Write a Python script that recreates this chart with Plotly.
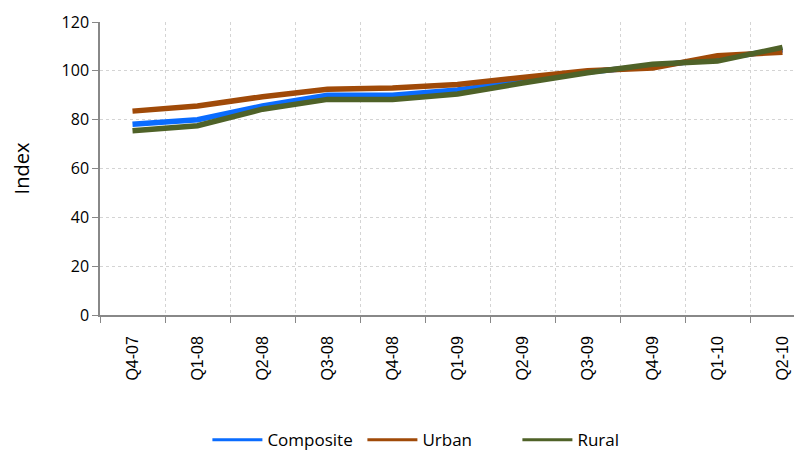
import plotly.graph_objects as go

quarters = ["Q4-07", "Q1-08", "Q2-08", "Q3-08", "Q4-08", "Q1-09", "Q2-09", "Q3-09", "Q4-09", "Q1-10", "Q2-10"]
composite = [78.1, 80.0, 85.6, 90.0, 90.0, 92.2, 95.8, 99.5, 102.0, 105.0, 108.6]
urban = [83.5, 85.6, 89.4, 92.5, 93.0, 94.4, 97.3, 100.0, 101.2, 106.2, 107.6]
rural = [75.5, 77.5, 84.3, 88.3, 88.3, 90.5, 95.0, 99.2, 102.7, 104.0, 109.6]

series = [("Composite", composite, "#0a6cff"),
          ("Urban", urban, "#a04a08"),
          ("Rural", rural, "#4f6228")]

fig = go.Figure()
for name, vals, col in series:
    fig.add_trace(go.Scatter(x=quarters, y=vals, name=name, mode="lines",
                             line=dict(color=col, width=5.5), showlegend=False))
# legend entries with thinner line samples
for name, vals, col in series:
    fig.add_trace(go.Scatter(x=[quarters[0]], y=[None], name=name, mode="lines",
                             line=dict(color=col, width=3), showlegend=True,
                             hoverinfo="skip"))

fig.update_layout(
    width=794, height=443,
    margin=dict(l=92, r=0, t=14, b=136, autoexpand=False),
    paper_bgcolor="white", plot_bgcolor="white",
    font=dict(family="Open Sans, Liberation Sans, sans-serif", size=15, color="#000"),
    showlegend=True,
    legend=dict(orientation="h", x=0.153, xanchor="left", y=-0.427, yanchor="middle",
                font=dict(size=17), tracegroupgap=0, itemwidth=50,
                entrywidth=90, entrywidthmode="pixels"),
)
fig.update_xaxes(
    type="category", range=[-0.5, 10.3], tickson="boundaries", automargin=False,
    tickangle=-90, showline=True, linecolor="#888", linewidth=1.5,
    ticks="outside", ticklen=6, tickcolor="#888", ticklabelstandoff=13,
    showgrid=True, gridcolor="#d4d4d4", griddash="dot", gridwidth=1.3,
    tickfont=dict(size=16, family="Liberation Sans, Arial, sans-serif"),
)
fig.update_yaxes(
    range=[0, 120], dtick=20, showline=True, linecolor="#888", linewidth=1.5,
    ticks="outside", ticklen=6, tickcolor="#888", automargin=False,
    showgrid=True, gridcolor="#d4d4d4", griddash="dot", gridwidth=1.3,
    zeroline=False, tickfont=dict(size=16),
    title=dict(text="Index", font=dict(size=20), standoff=33),
)

fig.write_html("out.html")
